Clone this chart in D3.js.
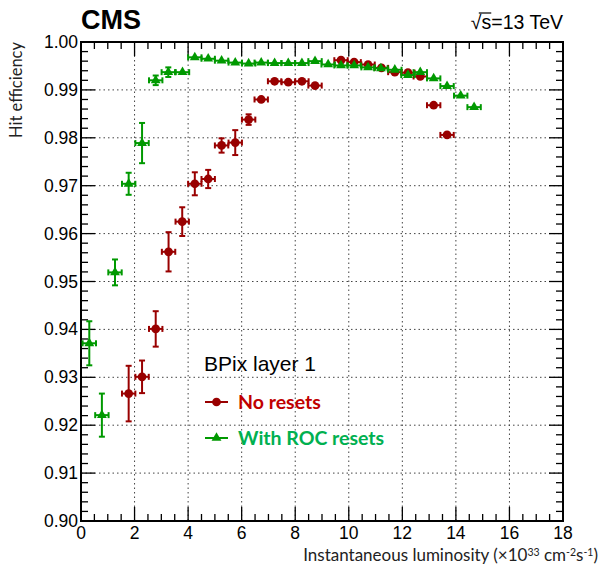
<!DOCTYPE html>
<html>
<head>
<meta charset="utf-8">
<script src="https://cdn.jsdelivr.net/npm/d3@7"></script>
<style>
  body { margin: 0; background: #fff; }
  svg { display: block; }
</style>
</head>
<body>
<script>
// hit efficiency vs inst. lumi, BPix layer 1

const noResetsLumi = [1.78, 2.28, 2.79, 3.27, 3.78, 4.25, 4.75, 5.25, 5.76, 6.26, 6.73, 7.23, 7.74, 8.25, 8.74,
                      9.71, 10.2, 10.72, 11.22, 11.72, 12.21, 12.67, 13.17, 13.67];
const noResetsEff  = [0.9266, 0.9301, 0.9401, 0.9562, 0.9625, 0.9704, 0.9714, 0.9784, 0.9790, 0.9838, 0.9880,
                      0.9918, 0.9916, 0.9918, 0.9909, 0.9962, 0.9958, 0.9953, 0.9946, 0.9937, 0.9936, 0.9928,
                      0.9868, 0.9806];
const noResetsErr  = [0.0058, 0.0034, 0.0037, 0.0041, 0.0030, 0.0024, 0.0019, 0.0015, 0.0026, 0.0011, 0.0007,
                      0.0008, 0.0007, 0.0004, 0.0003, 0.0003, 0.0003, 0.0003, 0.0003, 0.0003, 0.0003, 0.0003,
                      0.0003, 0.0003];

const rocLumi = [0.31, 0.78, 1.27, 1.78, 2.28, 2.79, 3.26, 3.79, 4.25, 4.75, 5.25, 5.76, 6.26, 6.73, 7.23,
                 7.74, 8.25, 8.74, 9.23, 9.71, 10.2, 10.72, 11.2, 11.72, 12.21, 12.67, 13.17, 13.67, 14.18, 14.68];
const rocEff  = [0.9371, 0.9221, 0.9519, 0.9704, 0.9789, 0.9920, 0.9937, 0.9937, 0.9968, 0.9965, 0.9961,
                 0.9957, 0.9955, 0.9957, 0.9956, 0.9956, 0.9956, 0.9960, 0.9953, 0.9951, 0.9951, 0.9947,
                 0.9945, 0.9942, 0.9931, 0.9937, 0.9924, 0.9908, 0.9888, 0.9864];
const rocErr  = [0.0046, 0.0045, 0.0027, 0.0023, 0.0042, 0.0010, 0.0010, 0.0004, 0.0002, 0.0002, 0.0002,
                 0.0002, 0.0002, 0.0002, 0.0002, 0.0002, 0.0002, 0.0002, 0.0002, 0.0002, 0.0002, 0.0002,
                 0.0002, 0.0002, 0.0002, 0.0002, 0.0002, 0.0002, 0.0002, 0.0002];

const binHalf = 0.25; // horizontal error = half bin width

const xTicks = [0, 2, 4, 6, 8, 10, 12, 14, 16, 18];
const yTicks = [0.90, 0.91, 0.92, 0.93, 0.94, 0.95, 0.96, 0.97, 0.98, 0.99, 1.00];

const width = 601, height = 567;
const padL = 81, padR = 563, padT = 42, padB = 521;

const red = "#990000", green = "#009900";

const svg = d3.select("body").append("svg")
  .attr("width", width)
  .attr("height", height);

const x = d3.scaleLinear().domain([0, 18]).range([padL, padR]);
const y = d3.scaleLinear().domain([0.90, 1.00]).range([padB, padT]);

// dotted grid
const grid = svg.append("g").attr("stroke", "#444").attr("stroke-width", 1).attr("stroke-dasharray", "1.5,3");
grid.selectAll(".gx").data(xTicks.slice(1, -1)).enter().append("line")
  .attr("x1", d => x(d)).attr("x2", d => x(d)).attr("y1", padT).attr("y2", padB);
grid.selectAll(".gy").data(yTicks.slice(1, -1)).enter().append("line")
  .attr("y1", d => y(d)).attr("y2", d => y(d)).attr("x1", padL).attr("x2", padR);

// axes, ROOT style: ticks pointing in on all sides
const xMinor = d3.range(0, 18.01, 0.5);
const yMinor = d3.range(0, 51).map(i => 0.90 + i * 0.002);

const tickLen = (major) => major ? 14 : 7;
const isMajorX = d => Math.abs(d / 2 - Math.round(d / 2)) < 1e-6;
const isMajorY = d => Math.abs(d * 100 - Math.round(d * 100)) < 1e-6;

const axes = svg.append("g").attr("stroke", "#000").attr("stroke-width", 1.3);
xMinor.forEach(d => {
  const L = tickLen(isMajorX(d));
  axes.append("line").attr("x1", x(d)).attr("x2", x(d)).attr("y1", padB).attr("y2", padB - L);
  axes.append("line").attr("x1", x(d)).attr("x2", x(d)).attr("y1", padT).attr("y2", padT + L);
});
yMinor.forEach(d => {
  const L = tickLen(isMajorY(d));
  axes.append("line").attr("y1", y(d)).attr("y2", y(d)).attr("x1", padL).attr("x2", padL + L);
  axes.append("line").attr("y1", y(d)).attr("y2", y(d)).attr("x1", padR).attr("x2", padR - L);
});
svg.append("rect")
  .attr("x", padL).attr("y", padT).attr("width", padR - padL).attr("height", padB - padT)
  .attr("fill", "none").attr("stroke", "#000").attr("stroke-width", 2);

// tick labels
svg.append("g").selectAll("text").data(xTicks).enter().append("text")
  .attr("x", d => x(d)).attr("y", padB + 18)
  .attr("text-anchor", "middle")
  .attr("font-family", "Liberation Sans, Arial, sans-serif").attr("font-size", 17.5)
  .text(d => d);
svg.append("g").selectAll("text").data(yTicks).enter().append("text")
  .attr("x", padL - 3).attr("y", d => y(d) + 6)
  .attr("text-anchor", "end")
  .attr("font-family", "Liberation Sans, Arial, sans-serif").attr("font-size", 17.5)
  .text(d => d3.format(".2f")(d));

// axis titles
const xt = svg.append("text")
  .attr("x", 598).attr("y", 561)
  .attr("text-anchor", "end")
  .attr("font-family", "Lato, sans-serif").attr("font-size", 17)
  .attr("fill", "#222");
xt.append("tspan").text("Instantaneous luminosity (×10");
xt.append("tspan").attr("font-size", 10.5).attr("dy", -5).text("33");
xt.append("tspan").attr("dy", 5).text(" cm");
xt.append("tspan").attr("font-size", 10.5).attr("dy", -5).text("-2");
xt.append("tspan").attr("dy", 5).text("s");
xt.append("tspan").attr("font-size", 10.5).attr("dy", -5).text("-1");
xt.append("tspan").attr("dy", 5).text(")");

svg.append("text")
  .attr("transform", "translate(22," + padT + ") rotate(-90)")
  .attr("text-anchor", "end")
  .attr("font-family", "Lato, sans-serif").attr("font-size", 16.5)
  .attr("fill", "#222")
  .text("Hit efficiency");

// header
svg.append("text")
  .attr("x", padL).attr("y", 29)
  .attr("font-family", "Liberation Sans, Arial, sans-serif").attr("font-weight", "bold").attr("font-size", 27)
  .text("CMS");
const energy = svg.append("text")
  .attr("x", padR).attr("y", 29)
  .attr("text-anchor", "end")
  .attr("font-family", "Liberation Sans, Arial, sans-serif").attr("font-size", 19.5)
  .text("√s=13 TeV");
// bar over the s of the square root
const en = energy.node();
const sx0 = en.getStartPositionOfChar(0).x + 8, sx1 = en.getEndPositionOfChar(1).x;
svg.append("line").attr("x1", sx0).attr("x2", sx1).attr("y1", 13).attr("y2", 13)
  .attr("stroke", "#000").attr("stroke-width", 1.2);

// data drawing
function drawSeries(lumi, eff, err, color, marker) {
  const pts = lumi.map((l, i) => ({ x: l, y: eff[i], e: err[i] }));
  const g = svg.append("g").attr("stroke", color).attr("stroke-width", 2).attr("fill", color);
  const cap = 3;
  pts.forEach(p => {
    const cx = x(p.x), cy = y(p.y);
    const x0 = x(p.x - binHalf), x1 = x(p.x + binHalf);
    const y0 = y(p.y - p.e), y1 = y(p.y + p.e);
    g.append("line").attr("x1", x0).attr("x2", x1).attr("y1", cy).attr("y2", cy);
    g.append("line").attr("x1", x0).attr("x2", x0).attr("y1", cy - cap).attr("y2", cy + cap);
    g.append("line").attr("x1", x1).attr("x2", x1).attr("y1", cy - cap).attr("y2", cy + cap);
    if (y0 - y1 > 8) {
      g.append("line").attr("x1", cx).attr("x2", cx).attr("y1", y1).attr("y2", y0);
      g.append("line").attr("x1", cx - cap).attr("x2", cx + cap).attr("y1", y1).attr("y2", y1);
      g.append("line").attr("x1", cx - cap).attr("x2", cx + cap).attr("y1", y0).attr("y2", y0);
    }
  });
  g.selectAll("path.m").data(pts).enter().append("path")
    .attr("d", marker)
    .attr("stroke", "none")
    .attr("transform", d => "translate(" + x(d.x) + "," + y(d.y) + ")");
}

const circleMark = d3.symbol().type(d3.symbolCircle).size(60)();
const triMark = d3.symbol().type(d3.symbolTriangle).size(42)();

drawSeries(noResetsLumi, noResetsEff, noResetsErr, red, circleMark);
drawSeries(rocLumi, rocEff, rocErr, green, triMark);

// legend
svg.append("text")
  .attr("x", 204).attr("y", 371)
  .attr("font-family", "Liberation Sans, Arial, sans-serif").attr("font-size", 21)
  .text("BPix layer 1");

const legend = [
  { label: "No resets", color: red, text: "#c00000", mark: circleMark, yy: 402 },
  { label: "With ROC resets", color: green, text: "#00b050", mark: triMark, yy: 438 }
];
legend.forEach(l => {
  svg.append("line").attr("x1", 205).attr("x2", 228).attr("y1", l.yy).attr("y2", l.yy)
    .attr("stroke", l.color).attr("stroke-width", 2);
  svg.append("path").attr("d", l.mark).attr("fill", l.color)
    .attr("transform", "translate(216.5," + l.yy + ")");
  svg.append("text")
    .attr("x", 238).attr("y", l.yy + 7)
    .attr("font-family", "Lato, sans-serif").attr("font-weight", "bold").attr("font-size", 19.5)
    .attr("fill", l.text)
    .text(l.label);
});
</script>
</body>
</html>
